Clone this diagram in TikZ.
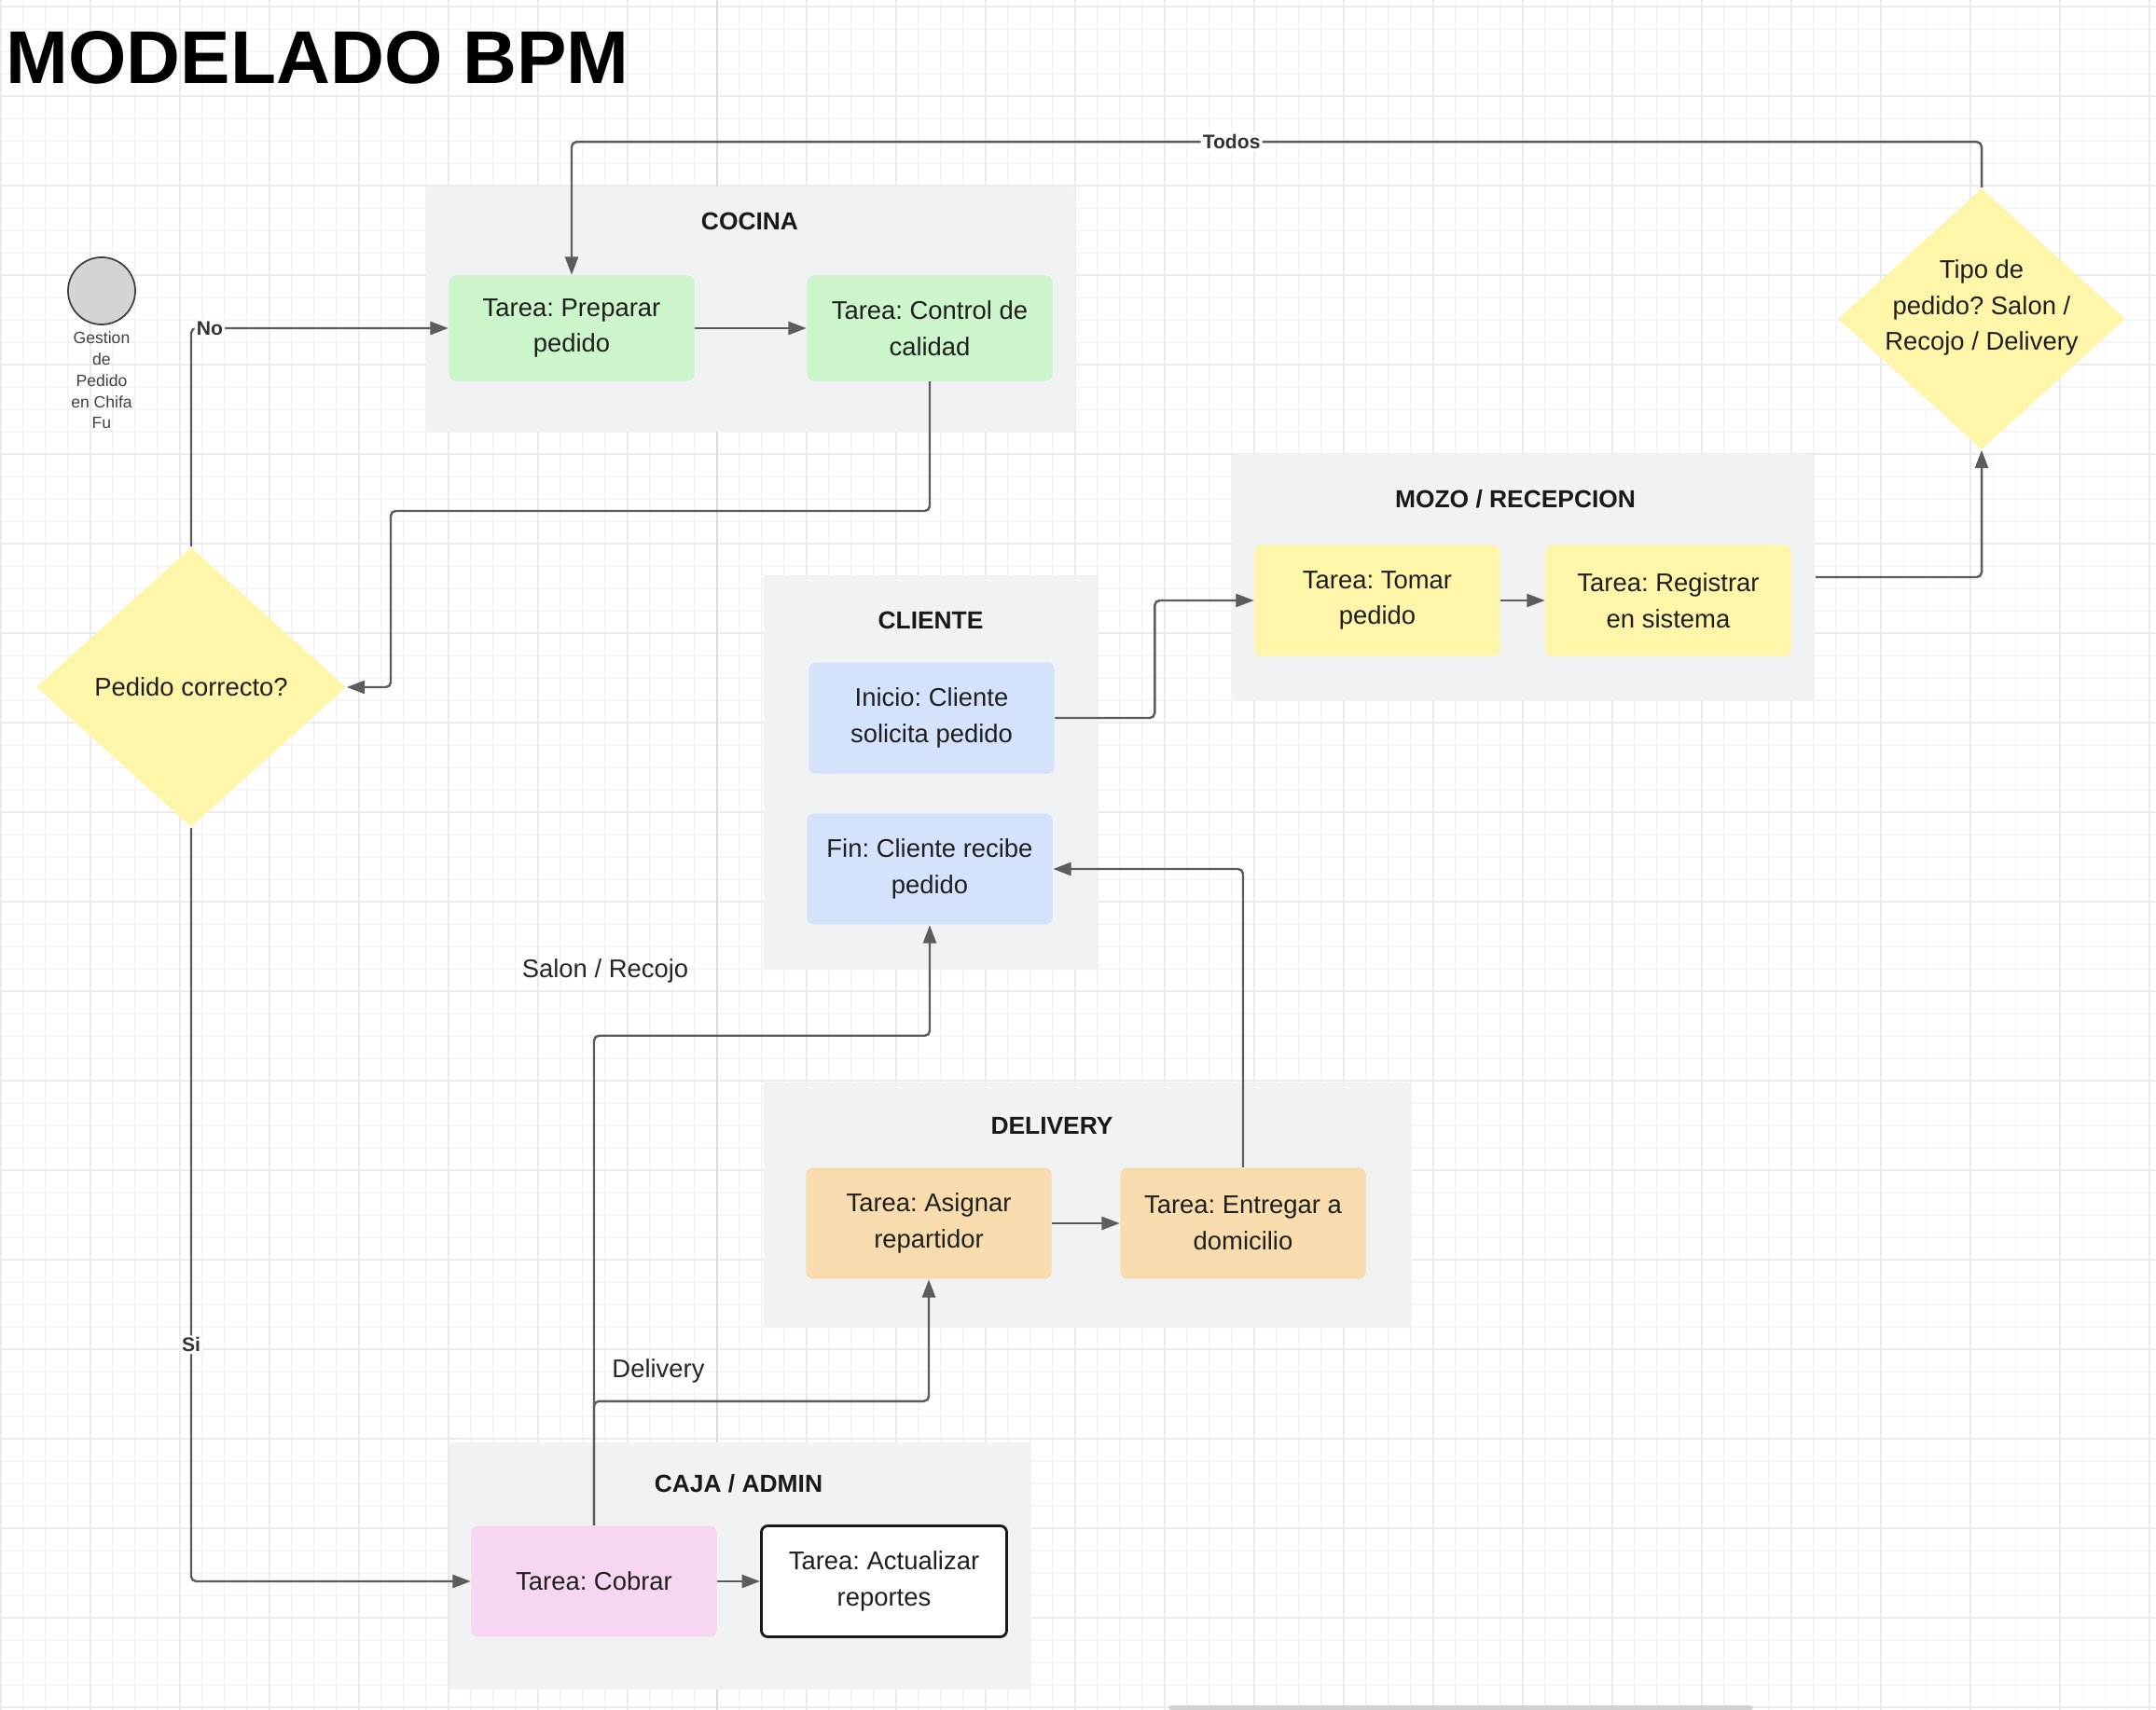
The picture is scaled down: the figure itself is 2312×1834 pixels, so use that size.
\documentclass[tikz,border=0pt]{standalone}
\usepackage{fontspec}
\setmainfont{Liberation Sans}
\usetikzlibrary{arrows.meta,shapes.geometric}
\definecolor{lanegray}{HTML}{F1F2F4}
\definecolor{linegray}{HTML}{5C5C5C}
\definecolor{gridminor}{HTML}{F5F5F5}
\definecolor{gridmajor}{HTML}{EBEBEB}
\definecolor{taskgreen}{HTML}{CCF5CB}
\definecolor{taskyellow}{HTML}{FFF6AA}
\definecolor{taskblue}{HTML}{D4E3FB}
\definecolor{taskorange}{HTML}{F8DCAD}
\definecolor{taskpink}{HTML}{F7D6F1}
\definecolor{startgray}{HTML}{D3D4D6}
\tikzset{
  lane/.style={fill=lanegray,rounded corners=1pt,inner sep=0pt},
  lanetitle/.style={font=\bfseries\fontsize{7.5}{9}\selectfont,text=black!90},
  task/.style={rectangle,rounded corners=2pt,minimum width=2.63cm,minimum height=1.19cm,
    inner sep=0pt,align=center,font=\fontsize{7.8}{11}\selectfont,text=black!88},
  decision/.style={diamond,fill=taskyellow,inner sep=0pt},
  flow/.style={draw=linegray,line width=0.7pt,rounded corners=1.5pt,
    -{Triangle[length=5.5pt,width=4pt]}},
  lbl/.style={font=\bfseries\fontsize{6}{7}\selectfont,fill=white,inner sep=0.6pt,text=black!80},
  edgetxt/.style={font=\fontsize{7.8}{9}\selectfont,text=black!85},
}
\frenchspacing
\begin{document}
\begin{tikzpicture}[x=0.01cm,y=-0.01cm]
  \useasboundingbox (0,0) rectangle (2312,1834);
  \fill[white] (0,0) rectangle (2312,1834);
  % grid
  \foreach \gx in {1,25,...,2312} \draw[gridminor,line width=0.3pt] (\gx,0)--(\gx,1834);
  \foreach \gy in {7,31,...,1834} \draw[gridminor,line width=0.3pt] (0,\gy)--(2312,\gy);
  \foreach \gx in {1,97,...,2312} \draw[gridmajor,line width=0.45pt] (\gx,0)--(\gx,1834);
  \foreach \gy in {7,103,...,1834} \draw[gridmajor,line width=0.45pt] (0,\gy)--(2312,\gy);
  \draw[black!14,line width=0.6pt] (769,0)--(769,1834);
  \fill[black!18,rounded corners=1pt] (1253,1829) rectangle (1880,1834);

  \node (titulo) [anchor=west,inner sep=0pt,font=\bfseries\fontsize{22.8}{26}\selectfont] at (6,62) {MODELADO BPM};

  % carriles
  \node (cocina) [lane,minimum width=6.96cm,minimum height=2.63cm] at (805,331.5) {};
  \node (mozo) [lane,minimum width=6.24cm,minimum height=2.64cm] at (1634,619) {};
  \node (cliente) [lane,minimum width=3.59cm,minimum height=4.23cm] at (998.5,828.5) {};
  \node (delivery) [lane,minimum width=6.94cm,minimum height=2.63cm] at (1166,1292.5) {};
  \node (caja) [lane,minimum width=6.23cm,minimum height=2.65cm] at (793.5,1679.5) {};
  \node (tcocina) [lanetitle] at (804,237) {COCINA};
  \node (tmozo) [lanetitle] at (1625,535) {MOZO / RECEPCION};
  \node (tcliente) [lanetitle] at (998,665) {CLIENTE};
  \node (tdelivery) [lanetitle] at (1128,1207) {DELIVERY};
  \node (tcaja) [lanetitle] at (792,1591) {CAJA / ADMIN};

  % inicio
  \node (start) [circle,fill=startgray,draw=black!75,line width=0.5pt,minimum size=0.72cm,inner sep=0pt] at (109,312) {};
  \node (startlbl) [align=center,font=\fontsize{5}{6.5}\selectfont,text=black!75] at (109,408)
    {Gestion\\de\\Pedido\\en Chifa\\Fu};

  % tareas
  \node (prep) [task,fill=taskgreen,minimum height=1.13cm] at (613,352) {Tarea: Preparar\\pedido};
  \node (ctrl) [task,fill=taskgreen,minimum height=1.13cm] at (997,352) {Tarea: Control de\\calidad};
  \node (tomar) [task,fill=taskyellow] at (1477,644) {Tarea: Tomar\\pedido};
  \node (registrar) [task,fill=taskyellow] at (1789,644) {Tarea: Registrar\\en sistema};
  \node (inicio) [task,fill=taskblue] at (999,770) {Inicio: Cliente\\solicita pedido};
  \node (fin) [task,fill=taskblue] at (997,932) {Fin: Cliente recibe\\pedido};
  \node (asignar) [task,fill=taskorange] at (996,1312) {Tarea: Asignar\\repartidor};
  \node (entregar) [task,fill=taskorange] at (1333,1312) {Tarea: Entregar a\\domicilio};
  \node (cobrar) [task,fill=taskpink] at (637,1696) {Tarea: Cobrar};
  \node (actualizar) [task,fill=white,draw=black!90,line width=0.8pt] at (948,1696) {Tarea: Actualizar\\reportes};

  % decisiones
  \node (pedido) [decision,minimum width=3.32cm,minimum height=3.0cm,
    label={[task,minimum height=0pt,fill=none]center:Pedido correcto?}] at (205,737) {};
  \node (tipo) [decision,minimum width=3.08cm,minimum height=2.8cm,
    label={[task,minimum height=0pt,fill=none,yshift=3.4pt]center:Tipo de\\pedido? Salon /\\Recojo / Delivery}] at (2125,342) {};

  % conectores
  \coordinate (kbend) at (419,548);
  \draw[flow] (prep) -- (ctrl);
  \draw[flow] (ctrl.south) |- (kbend) |- (pedido.east);
  \draw[flow] (pedido.north) |- node[lbl,pos=0.536]{No} (prep.west);
  \draw[flow] (pedido.south) |- node[lbl,pos=0.343]{Si} (cobrar.west);
  \draw[flow] (inicio.east) -- ++(107,0) |- (tomar.west);
  \draw[flow] (tomar) -- (registrar);
  \draw[flow] (mozo.east) -| (tipo.south);
  \draw[flow] (tipo.north) -- ++(0,-49) -| node[lbl,pos=0.266]{Todos} (prep.north);
  \draw[flow] (cobrar) -- (actualizar);
  \draw[flow] (cobrar.north) -- ++(0,-133) -| (asignar.south);
  \draw[flow] (cobrar.north) -- ++(0,-525) -| (fin.south);
  \draw[flow] (asignar) -- (entregar);
  \draw[flow] (entregar.north) |- (fin.east);
  \node (lsalon) [edgetxt] at (649,1041) {Salon / Recojo};
  \node (ldelivery) [edgetxt] at (706,1470) {Delivery};
\end{tikzpicture}
\end{document}
